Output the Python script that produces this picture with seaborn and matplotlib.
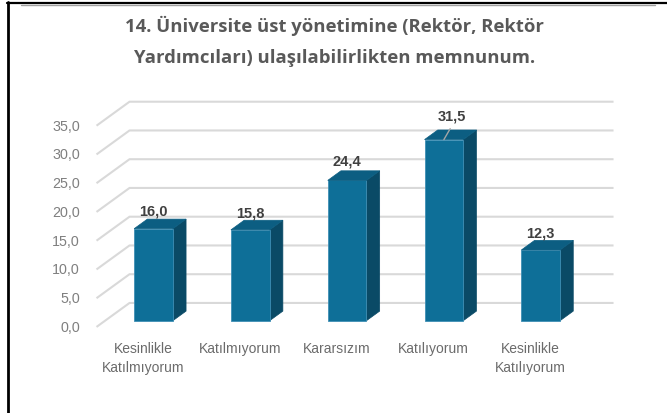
import matplotlib.pyplot as plt
import seaborn as sns
from matplotlib.lines import Line2D
from matplotlib.patches import Polygon

# data
categories = ["Kesinlikle\nKatılmıyorum", "Katılmıyorum", "Kararsızım",
              "Katılıyorum", "Kesinlikle\nKatılıyorum"]
values = [16.0, 15.8, 24.4, 31.5, 12.3]
value_labels = ["16,0", "15,8", "24,4", "31,5", "12,3"]
yticks = [0, 5, 10, 15, 20, 25, 30, 35]
ytick_labels = ["0,0", "5,0", "10,0", "15,0", "20,0", "25,0", "30,0", "35,0"]
title_lines = ["14. Üniversite üst yönetimine (Rektör, Rektör",
               "Yardımcıları) ulaşılabilirlikten memnunum."]

# colours / 3d look
front_c = "#0E6F98"
side_c = "#0A4A66"
top_c = "#0C5E82"
grid_c = "#D9D9D9"
DX, DY = 0.341, 4.17      # shift for full depth (x in category units, y in value units)
D0, DB = 0.26, 0.40       # bar front depth, bar depth
BW = 0.4

sns.set_style("white")
plt.rcParams["font.family"] = ["Liberation Sans", "DejaVu Sans"]


def proj(x, y, d):
    return x + DX * (d - D0), y + DY * (d - D0)


fig = plt.figure(figsize=(6.67, 4.14), dpi=100)
ax = fig.add_axes([0, 0, 1, 1])

sns.barplot(x=list(range(len(values))), y=values, ax=ax, color=front_c,
            saturation=1, width=BW, edgecolor="#3f8fb5", linewidth=0.6,
            zorder=3)

# back wall gridlines + diagonal lead-ins
xl, xr = -0.5, 4.5
for t in yticks:
    x0, y0 = proj(xl, t, 0)
    x1, y1 = proj(xl, t, 1)
    x2, y2 = proj(xr, t, 1)
    ax.plot([x0, x1, x2], [y0, y1, y2], color=grid_c, lw=1.5, zorder=1,
            solid_capstyle="butt")

for t, lab in zip(yticks, ytick_labels):
    x0, y0 = proj(xl, t, 0)
    ax.text(x0 - 0.17, y0, lab, ha="right", va="center", fontsize=10.3,
            color="#7F7F7F")

# side and top faces
for i, v in enumerate(values):
    xa, xb = i - BW / 2, i + BW / 2
    side = [proj(xb, 0, D0), proj(xb, v, D0), proj(xb, v, D0 + DB), proj(xb, 0, D0 + DB)]
    top = [proj(xa, v, D0), proj(xb, v, D0), proj(xb, v, D0 + DB), proj(xa, v, D0 + DB)]
    ax.add_patch(Polygon(side, closed=True, fc=side_c, ec=side_c, lw=0.5, zorder=2))
    ax.add_patch(Polygon(top, closed=True, fc=top_c, ec=top_c, lw=0.5, zorder=4))

# value labels (largest gets a leader line like the original)
imax = values.index(max(values))
for i, (v, lab) in enumerate(zip(values, value_labels)):
    if i == imax:
        ax.text(i + 0.08, v + 4.2, lab, ha="center", va="center", fontsize=10.5,
                fontweight="bold", color="#404040", zorder=5)
        ax.plot([i, i + 0.065], [v, v + 1.9], color="#A6A6A6", lw=1, zorder=5)
    else:
        lift = 3.5 if v > 20 else 3.1
        ax.text(i, v + lift, lab, ha="center", va="center", fontsize=10.5,
                fontweight="bold", color="#404040", zorder=5)

# category labels on the front plane
for i, lab in enumerate(categories):
    x0, _ = proj(i, 0, 0)
    ax.text(x0 - 0.02, -3.5, lab, ha="center", va="top", fontsize=10,
            color="#6B6B6B", linespacing=1.45)

ax.set_xlim((0 - 153.5) / 96.8, (667 - 153.5) / 96.8)
ax.set_ylim((321.7 - 414) / 5.75, 321.7 / 5.75)
ax.axis("off")

# title
for k, line in enumerate(title_lines):
    fig.text(0.502, 1 - (26 + 32 * k) / 414, line, ha="center", va="center",
             fontsize=13.3, fontweight="bold", color="#595959",
             family=["Open Sans", "DejaVu Sans"])

# screenshot frame bits
W, H = 667, 414
fig.add_artist(Line2D([7 / W, 1], [1 - 4 / H, 1 - 4 / H], color="black", lw=1.6))
fig.add_artist(Line2D([21 / W, 655 / W], [1 - 5.6 / H, 1 - 5.6 / H], color="#A0A0A0", lw=1.0))
fig.add_artist(Line2D([8 / W, 8 / W], [0, 1 - 3.3 / H], color="black", lw=2.0))

fig.savefig("out.png", dpi=100)
